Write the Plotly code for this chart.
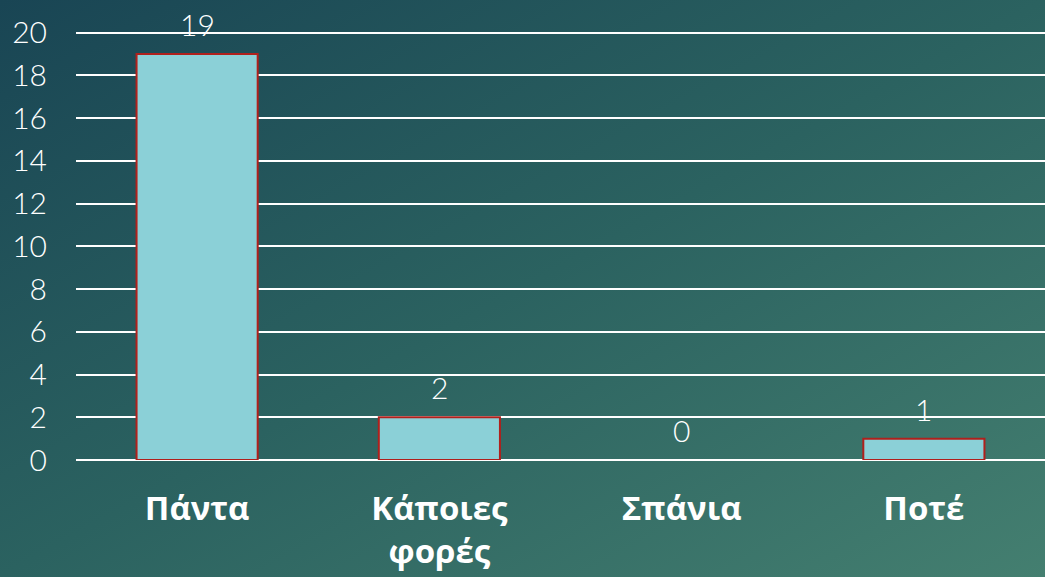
import plotly.graph_objects as go
import base64

categories = ["Πάντα", "Κάποιες<br>φορές", "Σπάνια", "Ποτέ"]
values = [19, 2, 0, 1]
y_ticks = [0, 2, 4, 6, 8, 10, 12, 14, 16, 18, 20]

W, H = 1045, 577

svg = f'''<svg xmlns="http://www.w3.org/2000/svg" width="{W}" height="{H}">
<defs><linearGradient id="g" x1="0" y1="0" x2="1" y2="1">
<stop offset="0" stop-color="#194554"/>
<stop offset="0.5" stop-color="#2b6260"/>
<stop offset="1" stop-color="#447f70"/>
</linearGradient></defs>
<rect width="{W}" height="{H}" fill="url(#g)"/></svg>'''
bg = "data:image/svg+xml;base64," + base64.b64encode(svg.encode()).decode()

ML, MR, MT, MB = 76, 0, 22, 117
PW, PH = W - ML - MR, H - MT - MB

fig = go.Figure()
fig.add_trace(go.Bar(
    x=categories, y=values,
    marker=dict(color="#8bd0d7",
                line=dict(color="#b0201c", width=[2 if v > 0 else 0 for v in values])),
    width=0.5,
))

for c, v in zip(categories, values):
    fig.add_annotation(x=c, y=v, text=str(v), showarrow=False,
                       yanchor="bottom", yshift=10,
                       font=dict(family="Lato", size=30, color="white", weight=300))

fig.update_layout(
    width=W, height=H,
    margin=dict(l=ML, r=MR, t=MT, b=MB),
    paper_bgcolor="#2a5f5e",
    plot_bgcolor="rgba(0,0,0,0)",
    showlegend=False,
    images=[dict(source=bg, xref="paper", yref="paper", x=-ML/PW, y=1+MT/PH,
                 sizex=W/PW, sizey=H/PH, sizing="stretch", layer="below",
                 xanchor="left", yanchor="top")],
    xaxis=dict(tickfont=dict(family="Open Sans", size=33, color="white", weight="bold"),
               showgrid=False, ticklabelstandoff=26, showline=False),
    yaxis=dict(range=[0, 20.5], tickvals=y_ticks, showgrid=True, gridcolor="white",
               gridwidth=2, zeroline=True, zerolinecolor="white", zerolinewidth=2,
               tickfont=dict(family="Lato", size=30, color="white", weight=300),
               ticklabelstandoff=28),
)

fig.write_html("out.html", post_script="document.body.style.margin='0';",
               config={"displayModeBar": False})
